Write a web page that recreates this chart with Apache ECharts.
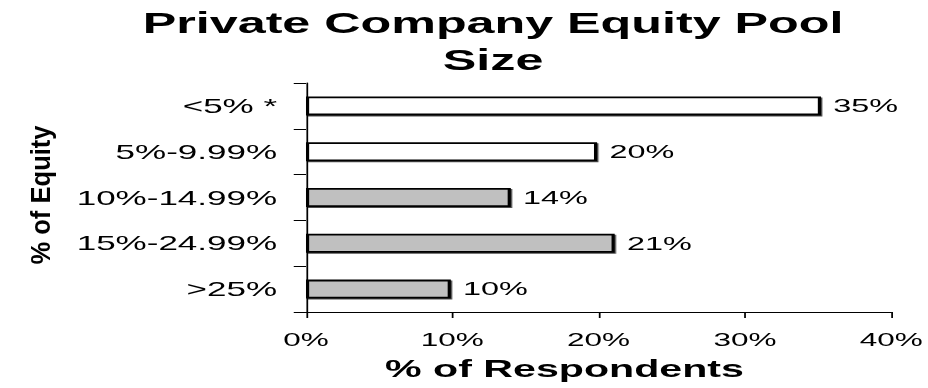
<!DOCTYPE html>
<html><head><meta charset="utf-8">
<script src="https://cdn.jsdelivr.net/npm/echarts@6.0.0/dist/echarts.min.js"></script>
<style>
html,body{margin:0;padding:0;background:#fff;overflow:hidden;}
#wrap{width:928px;height:388px;overflow:hidden;}
#chart{width:530px;height:388px;transform:scaleX(1.750943);transform-origin:0 0;}
</style></head><body>
<div id="wrap"><div id="chart"></div></div>
<script>
const titleText = 'Private Company Equity Pool\nSize';
const categories = ['<5% *', '5%-9.99%', '10%-14.99%', '15%-24.99%', '>25%'];
const values = [35.2, 19.9, 14.0, 21.1, 9.9];
const barColors = ['#ffffff', '#ffffff', '#c0c0c0', '#c0c0c0', '#c0c0c0'];
const xMin = 0, xMax = 40, xStep = 10;
const xName = '% of Respondents';
const yName = '% of Equity';

const FONT = '"Liberation Sans", Arial, sans-serif';
const chart = echarts.init(document.getElementById('chart'), null, {renderer: 'svg'});
chart.setOption({
  animation: false,
  backgroundColor: '#fff',
  title: {
    text: titleText,
    left: 281.6, top: 5, textAlign: 'center',
    padding: 0,
    textStyle: {fontFamily: FONT, fontSize: 28.7, fontWeight: 'bold', color: '#000', lineHeight: 37}
  },
  graphic: [{
    type: 'text',
    x: 23.4, y: 195,
    rotation: Math.PI / 2,
    scaleX: 1.55, scaleY: 0.95,
    style: {text: yName, fontFamily: FONT, fontSize: 16.5, fontWeight: 'bold', fill: '#000',
      textAlign: 'center', textVerticalAlign: 'middle'}
  }],
  grid: {left: 174.76, right: 20.56, top: 83, bottom: 76, containLabel: false},
  xAxis: {
    type: 'value', min: xMin, max: xMax, interval: xStep,
    splitLine: {show: false},
    axisLine: {show: true, lineStyle: {color: '#000', width: 1}},
    axisTick: {show: true, length: 6, lineStyle: {color: '#000'}},
    axisLabel: {formatter: '{value}%', margin: 19, fontSize: 18, color: '#000', fontFamily: FONT},
    name: xName, nameLocation: 'middle', nameGap: 45,
    nameTextStyle: {fontFamily: FONT, fontSize: 23.5, fontWeight: 'bold', color: '#000', padding: [0, 39, 0, 0]}
  },
  yAxis: {
    type: 'category', data: categories, inverse: true,
    axisLine: {show: true, lineStyle: {color: '#000', width: 1}},
    axisTick: {show: true, length: 7, lineStyle: {color: '#000'}},
    axisLabel: {margin: 16.5, fontSize: 20, color: '#000', fontFamily: FONT}
  },
  series: [{
    type: 'bar',
    barWidth: 19,
    data: values.map((v, i) => ({value: v, itemStyle: {color: barColors[i]}})),
    itemStyle: {borderColor: '#000', borderWidth: 1.8, shadowColor: 'rgba(0,0,0,0.7)', shadowOffsetX: 0.8, shadowOffsetY: 1, shadowBlur: 0},
    label: {show: true, position: 'right', distance: 7, fontSize: 18.5, color: '#000', fontFamily: FONT,
      formatter: p => Math.round(p.value) + '%'}
  }]
});
</script>
</body></html>
